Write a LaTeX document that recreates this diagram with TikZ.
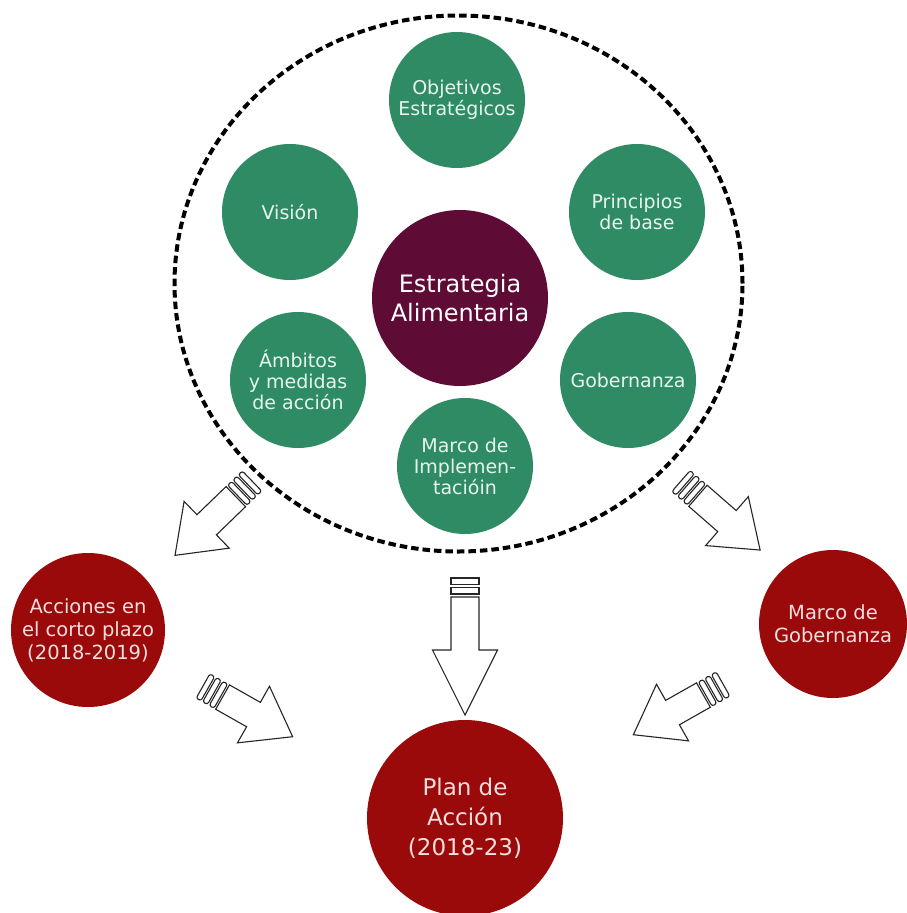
\documentclass[tikz,border=0pt]{standalone}
\usepackage{fontspec}
\setmainfont{DejaVu Sans}
\usetikzlibrary{shapes.geometric}
\definecolor{gr}{RGB}{46,139,100}
\definecolor{grtext}{RGB}{232,245,236}
\definecolor{pu}{RGB}{94,11,53}
\definecolor{rd}{RGB}{155,10,10}
\definecolor{rdtext}{RGB}{245,222,222}
\tikzset{
  greenc/.style={circle, fill=gr, text=grtext, minimum size=136pt, inner sep=0pt, align=center, font=\fontsize{19}{21}\selectfont},
  purplec/.style={circle, fill=pu, text=white, minimum size=176pt, inner sep=0pt, align=center, font=\fontsize{24}{29}\selectfont},
  redc/.style={circle, fill=rd, text=rdtext, inner sep=0pt, align=center, font=\fontsize{19.5}{23}\selectfont},
  frame/.style={ellipse, draw=black, line width=4pt, dash pattern=on 7.5pt off 4pt, minimum width=568pt, minimum height=536pt, inner sep=0pt},
  arrowline/.style={draw=black!85, line width=1.1pt, fill=white, line join=miter},
}
% #1 tail, #2 angle, #3 length, #4 head length, #5 stripes, #6 stripe thickness, #7 gap, #8 corner radius
\newcommand\stripearrow[8]{%
  \begin{scope}[shift={#1},rotate=#2]
    \foreach \k in {1,...,#5}{
      \draw[arrowline,rounded corners=#8] ({(\k-1)*(#6+#7)},-14) rectangle ++(#6,28);
    }
    \draw[arrowline] ({#5*(#6+#7)},-14) -- ({#3-#4},-14) -- ({#3-#4},-32.5) -- (#3,0)
      -- ({#3-#4},32.5) -- ({#3-#4},14) -- ({#5*(#6+#7)},14) -- cycle;
  \end{scope}}
\begin{document}
\begin{tikzpicture}[x=1pt,y=-1pt]
\useasboundingbox (0,0) rectangle (906,913);
\fill[white] (0,0) rectangle (906,913);

\node[frame] (ring) at (458.5,283.5) {};

\node[purplec] (ea) at (460,298) {Estrategia\\Alimentaria};
\node[greenc] (obj) at (457,100) {Objetivos\\Estratégicos};
\node[greenc] (vis) at (290,212) {Visión};
\node[greenc] (pri) at (637,212) {Principios\\de base};
\node[greenc] (amb) at (298,380) {Ámbitos\\y medidas\\de acción};
\node[greenc] (gob) at (628,380) {Gobernanza};
\node[greenc] (mi) at (465,466) {Marco de\\Implemen-\\tacióin};

\node[redc, minimum size=154pt] (acc) at (88,630) {Acciones en\\el corto plazo\\(2018-2019)};
\node[redc, minimum size=148pt] (mg) at (833,624) {Marco de\\Gobernanza};
\node[redc, minimum size=196pt, font=\fontsize{23}{30}\selectfont] (plan) at (465,818) {Plan de\\Acción\\(2018-23)};

\stripearrow{(252,481)}{-136}{107}{44}{3}{5.5}{2}{2.5pt}
\stripearrow{(465,578)}{-90}{137}{65}{2}{6.5}{3}{0pt}
\stripearrow{(681,481)}{-41.1}{105}{44}{3}{5.5}{2}{2.5pt}
\stripearrow{(203,686)}{-29.5}{103}{45}{3}{5.5}{2}{2.5pt}
\stripearrow{(723,684)}{209.5}{103}{45}{3}{5.5}{2}{2.5pt}
\end{tikzpicture}
\end{document}
